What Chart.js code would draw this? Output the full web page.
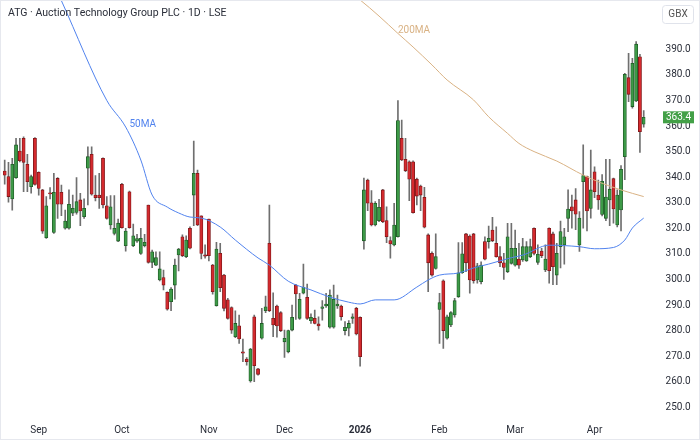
<!DOCTYPE html>
<html><head><meta charset="utf-8">
<script src="https://cdn.jsdelivr.net/npm/chart.js@4.4.1/dist/chart.umd.min.js"></script>
<style>html,body{margin:0;padding:0;background:#fff;}#wrap{width:700px;height:440px;position:relative;}</style>
</head><body><div id="wrap"><canvas id="c" width="700" height="440"></canvas></div>
<script>
const titleText = 'ATG · Auction Technology Group PLC · 1D · LSE';
const currencyLabel = 'GBX';
const lastPrice = 363.4;

const openP = [
342.4,340.2,331.5,339.8,350.2,355.2,345.0,336.3,355.2,341.9,
335.0,316.3,333.9,318.4,339.5,334.1,320.0,320.0,325.9,326.2,
331.1,324.5,343.5,348.9,333.0,333.0,347.4,328.8,321.3,318.0,
315.0,337.2,313.2,334.3,313.2,315.0,310.2,313.2,329.1,306.7,
305.6,299.8,300.7,295.0,291.3,297.8,309.6,316.7,308.9,320.0,
333.0,341.5,324.9,309.6,323.6,305.6,289.7,310.2,301.7,292.0,
289.0,277.6,281.9,271.7,268.9,260.3,285.4,265.0,277.0,287.8,
314.1,284.8,289.6,287.0,275.6,271.7,280.2,297.8,284.8,294.6,
293.0,283.9,284.8,282.6,288.7,289.6,281.3,281.3,289.6,289.6,
280.0,280.9,284.8,288.7,285.2,315.1,338.9,330.0,321.3,323.0,
335.0,323.0,315.2,313.5,316.7,355.2,347.0,346.0,346.0,339.2,
336.5,332.1,317.4,310.2,304.3,288.3,299.5,277.0,282.2,286.1,
293.2,302.6,317.8,317.0,317.8,299.8,299.1,314.8,314.8,319.3,
314.1,308.9,306.5,303.0,306.3,305.6,308.0,307.6,307.2,308.9,
320.0,306.7,311.1,303.7,320.0,317.8,301.7,312.8,313.5,323.9,
328.4,331.1,313.5,338.2,340.2,327.8,342.1,333.0,325.4,323.9,
331.1,339.4,321.3,327.2,348.0,378.9,367.6,369.8,387.1,360.7];
const highP = [
346.7,345.8,347.4,355.2,355.2,355.8,348.9,340.8,355.5,342.1,
335.2,332.4,335.9,341.5,339.8,336.9,327.1,335.0,333.0,339.8,
333.7,331.5,351.9,351.9,340.6,341.5,347.6,332.4,332.8,332.8,
323.6,337.6,320.0,334.6,321.6,317.6,320.0,317.6,329.1,311.5,
310.8,310.8,303.7,295.2,296.8,308.0,312.2,317.4,317.1,320.6,
354.1,342.8,324.9,313.5,323.6,305.9,314.5,314.1,302.0,292.6,
289.3,287.7,286.1,276.7,269.4,273.1,286.1,265.2,288.7,293.5,
329.1,294.8,290.0,287.4,280.2,280.2,290.0,298.1,294.6,306.0,
298.2,286.5,288.0,285.4,291.7,294.6,295.9,297.8,293.9,290.0,
283.5,283.9,286.5,289.1,285.4,339.6,339.2,334.7,330.4,331.3,
335.2,328.4,316.7,329.8,369.9,362.3,355.2,346.4,346.4,339.6,
336.9,336.0,317.8,310.8,317.8,294.6,299.8,286.1,287.4,292.6,
314.4,314.4,318.0,317.4,318.0,306.3,306.9,316.7,320.9,324.3,
320.6,312.8,310.2,321.9,321.9,319.3,314.1,316.1,314.8,315.8,
320.2,313.5,312.2,313.5,320.2,318.5,314.1,322.8,320.0,335.0,
333.0,335.5,326.5,352.6,340.4,350.6,344.0,338.9,341.0,347.0,
347.0,339.6,335.0,344.5,380.6,388.4,386.5,393.0,388.0,366.0];
const lowP = [
337.3,330.2,327.1,339.5,346.0,334.3,334.3,333.7,336.9,333.0,
318.0,316.0,331.5,318.0,323.9,324.9,319.7,319.7,324.9,325.5,
321.0,323.9,329.1,333.0,330.7,327.8,328.0,323.6,319.7,317.4,
314.8,320.0,311.1,320.0,312.8,314.5,309.8,312.7,306.4,304.6,
305.4,299.4,295.9,288.0,287.8,292.3,303.3,308.9,308.5,311.9,
321.0,321.0,308.0,308.3,307.2,294.2,289.5,295.2,287.7,284.5,
278.9,277.2,275.0,267.8,266.5,259.8,260.0,262.6,276.6,287.0,
287.4,277.6,277.4,279.6,269.5,271.3,279.9,284.4,284.4,294.3,
284.4,282.8,282.6,280.2,284.1,289.1,280.9,280.9,288.7,284.1,
278.3,277.9,282.8,278.3,266.1,311.8,326.9,320.9,320.9,322.6,
322.2,314.4,308.3,313.1,316.5,346.4,342.1,330.8,325.9,329.1,
326.9,320.1,295.2,301.3,304.0,275.0,273.0,276.6,281.5,285.2,
293.0,302.4,303.0,294.6,298.5,298.5,298.2,307.6,312.2,314.8,
308.7,305.0,300.0,302.6,306.0,305.2,304.3,307.0,307.0,308.5,
309.6,305.9,308.5,303.0,298.5,298.0,298.0,304.5,306.0,318.7,
320.0,319.5,311.0,320.0,319.0,324.0,332.0,327.4,324.8,323.0,
321.0,322.0,320.5,319.0,339.0,369.5,367.0,369.5,349.7,359.5];
const closeP = [
340.8,332.4,345.0,352.6,346.4,345.8,338.2,340.2,337.2,335.6,
318.9,328.8,333.4,334.1,329.4,329.4,322.8,329.4,327.8,330.4,
326.8,327.8,348.0,333.3,332.0,332.0,329.1,323.9,328.4,320.0,
322.0,320.2,318.9,320.2,317.1,316.0,316.1,314.5,306.7,310.8,
308.5,304.1,297.8,288.4,296.2,305.6,311.9,309.3,315.4,312.2,
341.5,321.3,310.2,309.1,309.3,295.2,311.9,296.8,288.7,284.8,
280.2,282.8,276.7,271.2,267.8,272.8,266.3,262.9,282.8,289.3,
287.8,282.2,281.8,280.0,277.0,280.0,285.2,294.3,292.2,296.9,
284.8,285.2,282.8,281.8,289.3,290.4,293.9,292.2,290.4,285.4,
281.3,282.8,285.4,278.7,269.8,335.0,329.8,321.3,329.8,328.2,
322.6,316.7,313.9,321.3,362.1,346.7,342.5,339.2,326.1,332.6,
333.0,320.4,306.5,301.7,308.9,290.9,280.0,285.4,287.0,291.7,
302.6,310.0,306.5,299.8,299.5,305.3,305.6,307.9,316.1,315.1,
308.9,306.5,304.7,316.7,312.2,312.2,305.6,312.8,312.8,312.8,
310.2,309.8,309.3,308.0,303.4,305.0,310.2,318.7,316.7,327.5,
326.8,325.5,324.0,340.6,326.8,335.0,334.3,331.1,338.4,332.2,
335.3,327.6,333.0,343.1,380.2,372.4,384.5,392.0,357.8,363.4];

// moving averages read at selected candles: [candle index, value]
const ma50Points = [[0,457],[15,409],[27,370],[32,359.6],[36,346.7],[39,333],[43,328.3],[46,326],[49,324.4],[52,324],[57,320.5],[61,315.4],[67,308.4],[70,305.6],[75,299.3],[81,295.9],[86,293.1],[91,291.1],[94,290.4],[98,292],[103,292],[109,297],[112,299.8],[115,301.7],[120,302.5],[124,304.5],[128,306],[134,308.5],[137,309.5],[144,313.4],[152,312.8],[156,312],[161,312.5],[164,315.4],[166,320.1],[169,324]];
const ma200Points = [[86,418],[94,409.3],[99,403],[104,396.2],[108,390.9],[113,383.9],[117,378],[124,370.2],[128,363.6],[133,357.1],[136,353.2],[140,350],[146,346.3],[153,340.8],[158,337.6],[163,335],[169,332.4]];
const maNames = ['50MA','200MA'];
const maColors = ['#5183ee','#d9b284'];
const maLabelIdx = [33, 104];
const maLabelVal = [360.4, 397.5];

const monthTickIndex = [9,31,54,74,94,115,135,156];
const monthTickLabels = ['Sep','Oct','Nov','Dec','2026','Feb','Mar','Apr'];
const yTickValues = [250,260,270,280,290,300,310,320,330,340,350,360,370,380,390];

const UP = '#3d9a47', DOWN = '#d42a2e', UPB = '#1f5a26', DOWNB = '#7c1618';
const FONT = 'Roboto, "DejaVu Sans", sans-serif';

const labels = openP.map((_, i) => String(i + 1));
function fullSeries(points) {
  const arr = new Array(openP.length).fill(null);
  points.forEach(([i, v]) => { arr[i] = v; });
  return arr;
}
const isUp = openP.map((o, i) => closeP[i] >= o);

const overlay = {
  id: 'overlay',
  afterDraw(chart) {
    const ctx = chart.ctx, xs = chart.scales.x, ys = chart.scales.y;
    ctx.save();
    ctx.font = '10.5px ' + FONT;
    ctx.fillStyle = '#2a2e39';
    ctx.textBaseline = 'middle';
    ctx.textAlign = 'left';
    ctx.fillText(titleText, 8, 13);
    ctx.font = '10px ' + FONT;
    for (let k = 0; k < maNames.length; k++) {
      ctx.fillStyle = maColors[k];
      ctx.fillText(maNames[k], xs.getPixelForValue(maLabelIdx[k]), ys.getPixelForValue(maLabelVal[k]));
    }
    ctx.fillStyle = '#fff';
    ctx.strokeStyle = '#e0e3eb';
    ctx.lineWidth = 1;
    ctx.beginPath();
    ctx.roundRect(662.5, 5.5, 31, 18, 3);
    ctx.fill(); ctx.stroke();
    ctx.fillStyle = '#555';
    ctx.textAlign = 'center';
    ctx.fillText(currencyLabel, 678, 14.5);
    const py = ys.getPixelForValue(lastPrice);
    ctx.fillStyle = '#43a047';
    ctx.fillRect(663, py - 6, 31, 12);
    ctx.fillStyle = '#fff';
    ctx.fillText(lastPrice.toFixed(1), 678.5, py + 0.5);
    ctx.strokeStyle = '#e6e8ee';
    ctx.strokeRect(0.5, 0.5, 699, 439);
    ctx.restore();
  }
};

new Chart(document.getElementById('c'), {
  type: 'bar',
  data: {
    labels,
    datasets: [
      {
        type: 'line', label: maNames[0], data: fullSeries(ma50Points),
        borderColor: maColors[0], borderWidth: 1, pointRadius: 0, spanGaps: true,
        cubicInterpolationMode: 'monotone', order: 0
      },
      {
        type: 'line', label: maNames[1], data: fullSeries(ma200Points),
        borderColor: maColors[1], borderWidth: 1, pointRadius: 0, spanGaps: true,
        cubicInterpolationMode: 'monotone', order: 0
      },
      {
        label: 'body', data: openP.map((o, i) => [o, closeP[i]]),
        backgroundColor: isUp.map(u => u ? UP : DOWN),
        borderColor: isUp.map(u => u ? UPB : DOWNB),
        borderWidth: 0.8, borderSkipped: false,
        barThickness: 3.2, grouped: false, order: 1
      },
      {
        label: 'wick', data: lowP.map((l, i) => [l, highP[i]]),
        backgroundColor: '#6f6f6f', borderWidth: 0,
        barThickness: 1, grouped: false, order: 2
      }
    ]
  },
  options: {
    responsive: false,
    animation: false,
    layout: { padding: { left: 2.8, right: 0, top: 0, bottom: 0 } },
    plugins: { legend: { display: false }, tooltip: { enabled: false } },
    scales: {
      x: {
        offset: true,
        grid: { display: false, drawTicks: false },
        border: { display: false },
        afterFit: s => { s.height = 22; s.paddingLeft = 0; s.paddingRight = 0; },
        ticks: {
          autoSkip: false, maxRotation: 0, padding: 6, color: '#2a2e39',
          callback: (v, i) => { const k = monthTickIndex.indexOf(i); return k >= 0 ? monthTickLabels[k] : ''; },
          font: (c) => ({ family: FONT, size: 10, weight: (c.tick && c.tick.label === '2026') ? 'bold' : 'normal' })
        }
      },
      y: {
        position: 'right',
        min: 245.81, max: 409.28,
        grid: { display: false, drawTicks: false },
        border: { display: false },
        afterFit: s => { s.width = 54.4; s.paddingTop = 0; s.paddingBottom = 0; },
        afterBuildTicks: s => { s.ticks = yTickValues.map(v => ({ value: v })); },
        ticks: {
          padding: 20, color: '#2a2e39',
          font: { family: FONT, size: 10 },
          callback: v => Number(v).toFixed(1)
        }
      }
    }
  },
  plugins: [overlay]
});
</script>
</body></html>
